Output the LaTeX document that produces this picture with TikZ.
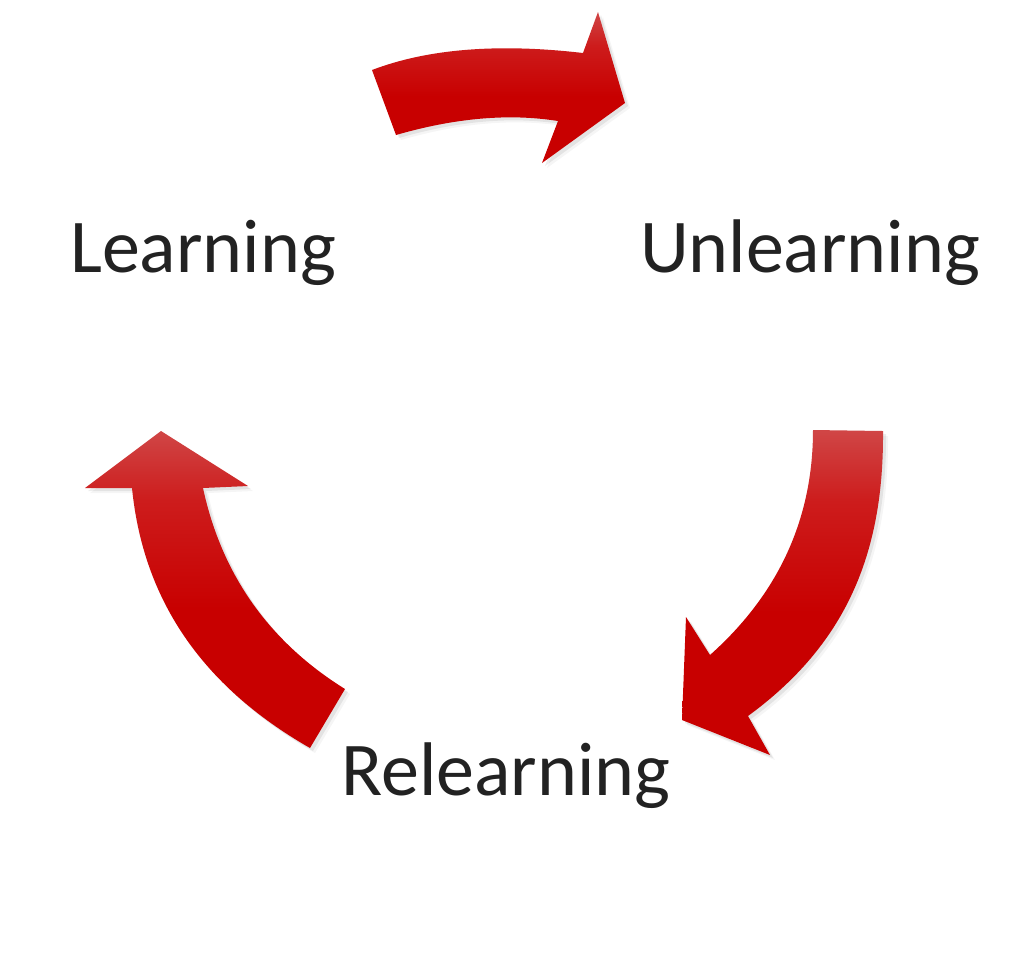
\documentclass[tikz,border=0pt]{standalone}
\usepackage{fontspec}
\setmainfont{Carlito}
\definecolor{arrowlight}{HTML}{D04646}
\definecolor{arrowmid}{HTML}{CD1C1C}
\definecolor{arrowred}{HTML}{C80000}
\definecolor{textdark}{HTML}{222222}
\pgfdeclareverticalshading{arrowshade}{100bp}{color(0bp)=(arrowred); color(25bp)=(arrowred); color(47bp)=(arrowred); color(64bp)=(arrowmid); color(75bp)=(arrowlight); color(100bp)=(arrowlight)}
\tikzset{
  cyclearrow/.style={shading=arrowshade, draw=none},
  stagelabel/.style={anchor=base, text=textdark, inner sep=0pt, font=\fontsize{38}{40}\selectfont}
}
\begin{document}
\begin{tikzpicture}[x=0.5pt, y=-0.5pt]
\useasboundingbox (0,0) rectangle (1024,955);
\fill[white] (0,0) rectangle (1024,955);
% shapes
\def\toparrow{(372,70) .. controls (427.6,48.8) and (497.9,43.1) .. (583,53) -- (598,12) -- (625,103) -- (542,163) -- (558,121) .. controls (509.1,113.2) and (455.1,117.9) .. (396,135) -- cycle}
\def\rightarrow{(813,430) -- (883,431) .. controls (884,555) and (845,645) .. (748,716) -- (770,755) -- (682,720) -- (686,617) -- (710,655) .. controls (778.7,593.7) and (813,518.7) .. (813,430) -- cycle}
\def\leftarrow{(161,431) -- (248,486) -- (203,488) .. controls (221.7,574.7) and (269,641.7) .. (345,689) -- (310,748) .. controls (200,685) and (143,598) .. (132,488) -- (85,488) -- cycle}
\foreach \s/\o in {3/0.07,5/0.04}{
  \begin{scope}[shift={(\s,\s)}]
    \fill[black, opacity=\o] \toparrow;
    \fill[black, opacity=\o] \rightarrow;
    \fill[black, opacity=\o] \leftarrow;
  \end{scope}
}
\path[cyclearrow] \toparrow;
\path[cyclearrow] \rightarrow;
\path[cyclearrow] \leftarrow;
% labels
\node[stagelabel] (learning) at (203,272) {Learning};
\node[stagelabel] (unlearning) at (810,272) {Unlearning};
\node[stagelabel] (relearning) at (506,795) {Relearning};
\end{tikzpicture}
\end{document}
